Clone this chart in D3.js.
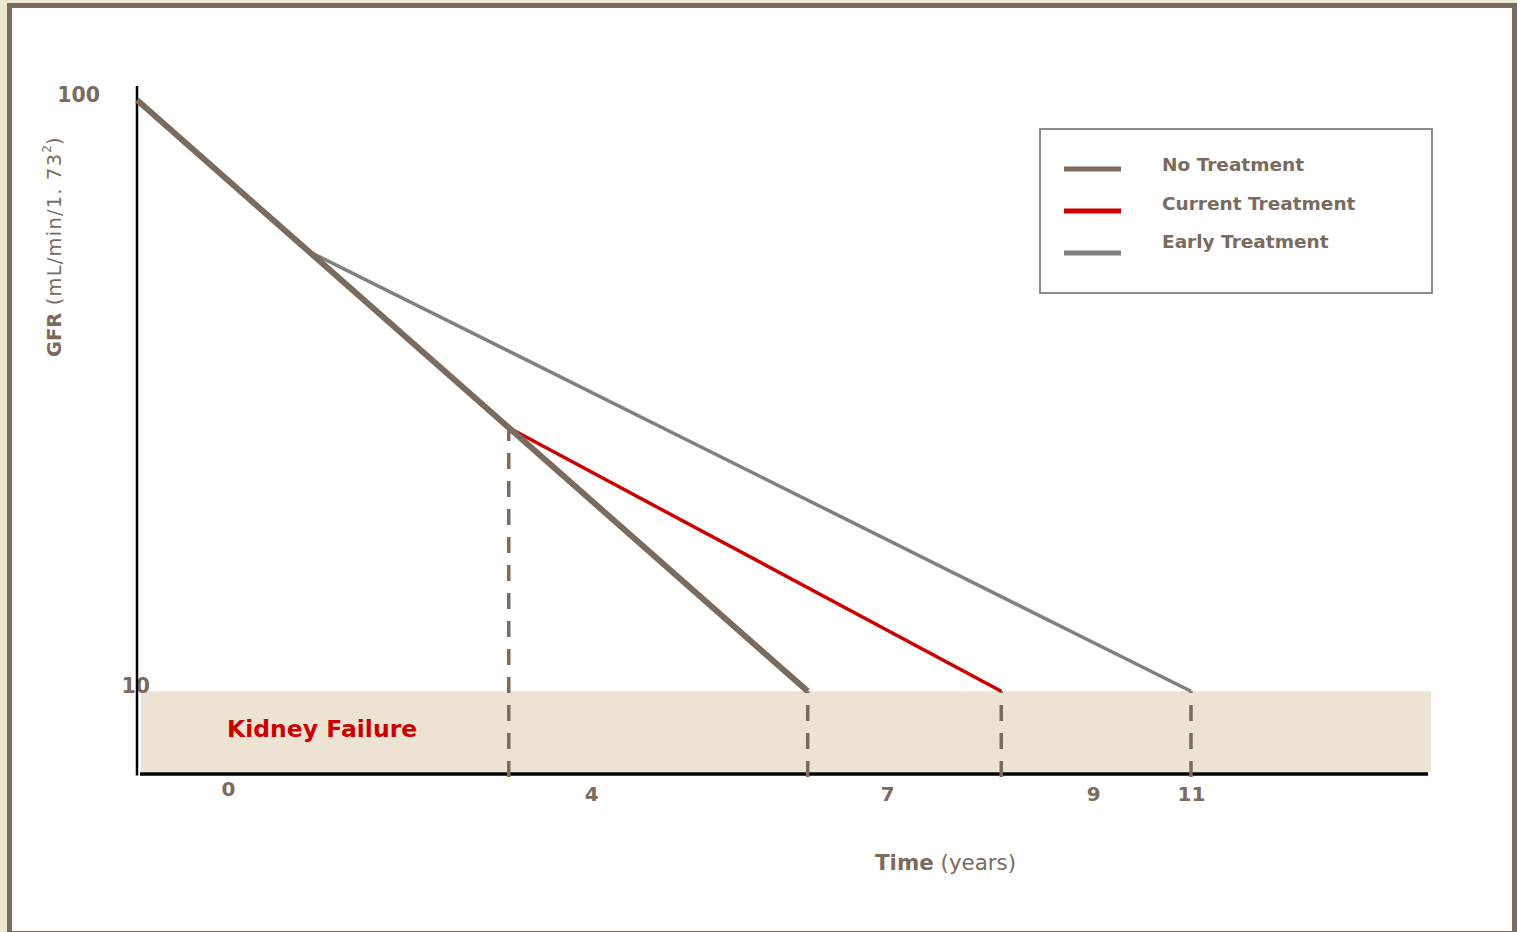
<!DOCTYPE html>
<html>
<head>
<meta charset="utf-8">
<title>GFR decline over time</title>
<script src="https://cdn.jsdelivr.net/npm/d3@7"></script>
<style>
  html, body { margin: 0; padding: 0; background: #ece9d2; overflow: hidden; }
  svg { display: block; }
  text { font-family: "DejaVu Sans", Verdana, sans-serif; }
</style>
</head>
<body>
<svg id="chart" width="1517" height="932"></svg>
<script>
// GFR (mL/min/1.73²) against time in years for three treatment scenarios
const noTreatment      = [[0, 100], [7, 10]];
const currentTreatment = [[3.88, 50.1], [9.02, 10]];
const earlyTreatment   = [[1.8, 76.9], [11, 10]];

const seriesNames  = ["No Treatment", "Current Treatment", "Early Treatment"];
const seriesColors = ["#7b6b5e", "#cc0000", "#808080"];

// start of current treatment, then the time each course reaches kidney failure
const markerYears = [3.88, 7, 9.02, 11];

// x-axis tick labels and where they sit along the time axis
const xTickPos    = [0.95, 4.74, 7.83, 9.98, 11];
const xTickLabels = ["0", "4", "7", "9", "11"];
const yTickValues = [10, 100];

const failureGFR = 10;
const gfrFloor = -2.6;

const svg = d3.select("#chart");
const textColor = "#7b6b5e";

// framed white panel
svg.append("rect")
  .attr("x", 9.5).attr("y", 5.5)
  .attr("width", 1505).attr("height", 928)
  .attr("fill", "#ffffff")
  .attr("stroke", "#7b6b5e").attr("stroke-width", 5);

const x = d3.scaleLinear().domain([0, 11]).range([137, 1191]);
const y = d3.scaleLinear().domain([gfrFloor, 100]).range([774, 100]);

// kidney failure zone
svg.append("rect")
  .attr("x", 141).attr("y", y(failureGFR))
  .attr("width", 1431 - 141).attr("height", 772 - y(failureGFR))
  .attr("fill", "#ece3d3");

svg.append("text")
  .attr("x", 227).attr("y", 729)
  .attr("dominant-baseline", "central")
  .attr("font-size", 23.5).attr("font-weight", "bold")
  .attr("fill", "#cc0000")
  .text("Kidney Failure");

// axes
const yAxis = d3.axisLeft(y).tickValues(yTickValues).tickSize(0).tickPadding(0)
  .tickFormat(d3.format("d"));
const gy = svg.append("g").attr("transform", "translate(137,0)").call(yAxis);
gy.select(".domain").remove();
gy.selectAll(".tick text")
  .attr("font-family", "DejaVu Sans, sans-serif")
  .attr("font-size", 20.5).attr("font-weight", "bold")
  .attr("fill", textColor)
  .attr("dy", "0.35em")
  .attr("x", d => d === 100 ? -37 : 13)
  .attr("y", -5.5);

const xAxis = d3.axisBottom(x).tickValues(xTickPos).tickSize(0)
  .tickFormat((d, i) => xTickLabels[i]);
const gx = svg.append("g").attr("transform", `translate(0,${y(gfrFloor)})`).call(xAxis);
gx.select(".domain").remove();
gx.selectAll(".tick text")
  .attr("font-family", "DejaVu Sans, sans-serif")
  .attr("font-size", 20).attr("font-weight", "bold")
  .attr("fill", textColor)
  .attr("y", (d, i) => i === 0 ? 15 : 20)
  .attr("dy", "0.35em");

svg.append("line")
  .attr("x1", 137).attr("x2", 137)
  .attr("y1", 86).attr("y2", y(gfrFloor) + 1.5)
  .attr("stroke", "#000").attr("stroke-width", 2.5);
svg.append("line")
  .attr("x1", 140).attr("x2", 1428)
  .attr("y1", y(gfrFloor)).attr("y2", y(gfrFloor))
  .attr("stroke", "#000").attr("stroke-width", 3.5);

// dashed drop lines, drawn upward from the time axis
const dropTop = t => {
  const v = noTreatment[0][1] + (noTreatment[1][1] - noTreatment[0][1]) * (t / noTreatment[1][0]);
  return Math.max(v, failureGFR);
};
svg.append("g").selectAll("line").data(markerYears).join("line")
  .attr("x1", d => x(d)).attr("x2", d => x(d))
  .attr("y1", y(gfrFloor) + 3).attr("y2", d => y(dropTop(d)))
  .attr("stroke", "#7b6b5e").attr("stroke-width", 3.5)
  .attr("stroke-dasharray", "16,12");

// treatment courses
const line = d3.line().x(d => x(d[0])).y(d => y(d[1]));
const courses = [
  { data: earlyTreatment, color: seriesColors[2], width: 3.5 },
  { data: currentTreatment, color: seriesColors[1], width: 3.5 },
  { data: noTreatment, color: seriesColors[0], width: 6 }
];
svg.append("g").selectAll("path").data(courses).join("path")
  .attr("d", d => line(d.data))
  .attr("fill", "none")
  .attr("stroke", d => d.color)
  .attr("stroke-width", d => d.width);

// axis titles
svg.append("text")
  .attr("transform", "translate(54,357) rotate(-90)")
  .attr("dominant-baseline", "central")
  .attr("font-size", 19.5).attr("fill", textColor)
  .call(t => {
    t.append("tspan").attr("font-weight", "bold").text("GFR");
    t.append("tspan").attr("letter-spacing", 1.2).text(" (mL/min/1. 73");
    t.append("tspan").attr("baseline-shift", "super").attr("font-size", 12).text("2");
    t.append("tspan").text(")");
  });

svg.append("text")
  .attr("x", 875).attr("y", 862)
  .attr("dominant-baseline", "central")
  .attr("font-size", 21.4).attr("fill", textColor)
  .call(t => {
    t.append("tspan").attr("font-weight", "bold").text("Time");
    t.append("tspan").text(" (years)");
  });

// legend
svg.append("rect")
  .attr("x", 1040).attr("y", 129).attr("width", 392).attr("height", 164)
  .attr("fill", "#ffffff").attr("stroke", "#8c8c8c").attr("stroke-width", 2);
const legendRowY = [169, 211, 253];
const legendTextY = [164, 203, 241];
const lg = svg.append("g").selectAll("g").data(seriesNames).join("g");
lg.append("line")
  .attr("x1", 1064).attr("x2", 1121)
  .attr("y1", (d, i) => legendRowY[i]).attr("y2", (d, i) => legendRowY[i])
  .attr("stroke", (d, i) => seriesColors[i]).attr("stroke-width", 5);
lg.append("text")
  .attr("x", 1162).attr("y", (d, i) => legendTextY[i])
  .attr("dominant-baseline", "central")
  .attr("font-size", 18.5).attr("font-weight", "bold")
  .attr("fill", textColor)
  .text(d => d);
</script>
</body>
</html>
